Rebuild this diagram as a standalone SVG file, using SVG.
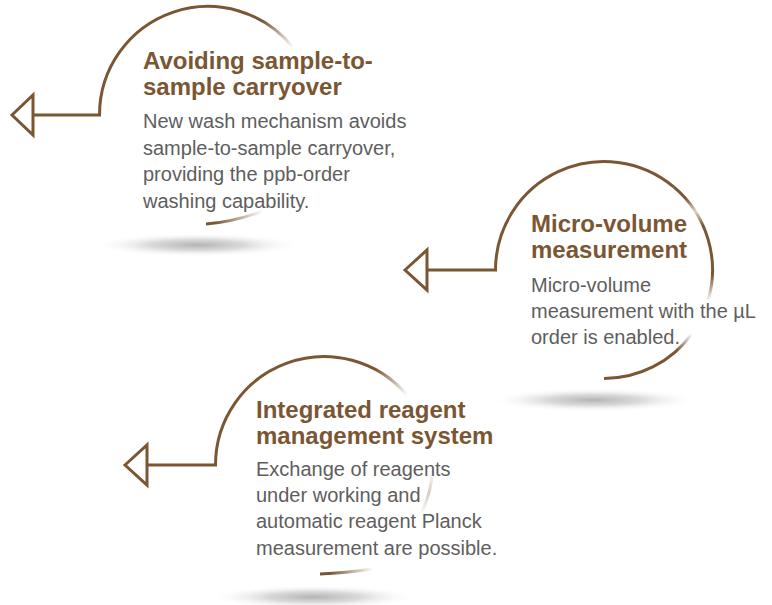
<svg xmlns="http://www.w3.org/2000/svg" width="772" height="605" viewBox="0 0 772 605">
<style>
.arc{fill:none;stroke-width:3;stroke-linecap:butt}
.solid{stroke:#7b5633}
.title{font-family:"Liberation Sans",Arial,sans-serif;font-weight:bold;font-size:24px;fill:#7b5633}
.body{font-family:"Liberation Sans",Arial,sans-serif;font-size:20px;fill:#5e5e5e}
.conn{fill:none;stroke:#7b5633;stroke-width:3;stroke-linejoin:miter}
.head{fill:#ffffff;stroke:#7b5633;stroke-width:3;stroke-linejoin:miter}
</style>
<defs>
<radialGradient id="shadow" cx="0.45" cy="0.5" r="0.5">
<stop offset="0" stop-color="#a0a0a0" stop-opacity="0.8"/>
<stop offset="0.45" stop-color="#b4b4b4" stop-opacity="0.5"/>
<stop offset="1" stop-color="#ffffff" stop-opacity="0"/>
</radialGradient>
<linearGradient id="g1a" gradientUnits="userSpaceOnUse" x1="262" y1="21" x2="293" y2="48">
<stop offset="0" stop-color="#7b5633"/><stop offset="1" stop-color="#7b5633" stop-opacity="0"/>
</linearGradient>
<linearGradient id="g1b" gradientUnits="userSpaceOnUse" x1="215" y1="223" x2="263" y2="211">
<stop offset="0" stop-color="#7b5633"/><stop offset="1" stop-color="#7b5633" stop-opacity="0"/>
</linearGradient>
<linearGradient id="g2a" gradientUnits="userSpaceOnUse" x1="673.7" y1="186.9" x2="707.8" y2="301.7">
<stop offset="0" stop-color="#7b5633"/>
<stop offset="0.12" stop-color="#7b5633"/>
<stop offset="0.25" stop-color="#e0d3c6"/>
<stop offset="0.38" stop-color="#7b5633"/>
<stop offset="0.8" stop-color="#7b5633"/>
<stop offset="1" stop-color="#7b5633" stop-opacity="0"/>
</linearGradient>
<linearGradient id="g2b" gradientUnits="userSpaceOnUse" x1="691.8" y1="333.8" x2="676.6" y2="350.6">
<stop offset="0" stop-color="#7b5633" stop-opacity="0"/><stop offset="1" stop-color="#7b5633"/>
</linearGradient>
<linearGradient id="g3a" gradientUnits="userSpaceOnUse" x1="374.9" y1="369.2" x2="407.1" y2="395.3">
<stop offset="0" stop-color="#7b5633"/><stop offset="1" stop-color="#7b5633" stop-opacity="0"/>
</linearGradient>
<linearGradient id="g3c" gradientUnits="userSpaceOnUse" x1="426" y1="470" x2="426" y2="515">
<stop offset="0" stop-color="#7b5633" stop-opacity="0"/>
<stop offset="0.5" stop-color="#7b5633" stop-opacity="0.3"/>
<stop offset="1" stop-color="#7b5633" stop-opacity="0"/>
</linearGradient>
<linearGradient id="g3b" gradientUnits="userSpaceOnUse" x1="330" y1="574" x2="373" y2="569">
<stop offset="0" stop-color="#7b5633"/><stop offset="1" stop-color="#7b5633" stop-opacity="0"/>
</linearGradient>
</defs>
<rect width="772" height="605" fill="#ffffff"/>

<g id="node-carryover">
<ellipse cx="208" cy="245" rx="105" ry="12" fill="url(#shadow)"/>
<path class="arc" stroke="url(#g1a)" d="M99.5,115 A108.5,108.5 0 0 1 293.5,48.2"/>
<path class="arc" stroke="url(#g1b)" d="M206,224 Q233,222 263,211"/>
<text class="title" x="143" y="69">Avoiding sample-to-</text>
<text class="title" x="143" y="95">sample carryover</text>
<text class="body" x="143" y="128">New wash mechanism avoids</text>
<text class="body" x="143" y="154.5">sample-to-sample carryover,</text>
<text class="body" x="143" y="181">providing the ppb-order</text>
<text class="body" x="143" y="207.5">washing capability.</text>
</g>

<g id="node-microvolume">
<ellipse cx="604" cy="400" rx="105" ry="12" fill="url(#shadow)"/>
<path class="arc solid" d="M495.5,270 A108.5,108.5 0 0 1 673.7,186.9"/>
<path class="arc" stroke="url(#g2a)" d="M673.7,186.9 A108.5,108.5 0 0 1 707.8,301.7"/>
<path class="arc" stroke="url(#g2b)" d="M691.8,333.8 A108.5,108.5 0 0 1 604,378.5"/>
<text class="title" x="531" y="232">Micro-volume</text>
<text class="title" x="531" y="258">measurement</text>
<text class="body" x="531" y="292">Micro-volume</text>
<text class="body" x="531" y="318">measurement with the µL</text>
<text class="body" x="531" y="344">order is enabled.</text>
</g>

<g id="node-reagent">
<ellipse cx="324" cy="597" rx="105" ry="12" fill="url(#shadow)"/>
<path class="arc" stroke="url(#g3a)" d="M215.5,465 A108.5,108.5 0 0 1 407.1,395.3"/>
<path class="arc" stroke="url(#g3c)" d="M432.4,470.7 A108.5,108.5 0 0 1 420.7,514.3"/>
<path class="arc" stroke="url(#g3b)" d="M320,574 Q345,573 373,569"/>
<text class="title" x="256" y="418">Integrated reagent</text>
<text class="title" x="256" y="444">management system</text>
<text class="body" x="256" y="476">Exchange of reagents</text>
<text class="body" x="256" y="502">under working and</text>
<text class="body" x="256" y="528">automatic reagent Planck</text>
<text class="body" x="256" y="555">measurement are possible.</text>
</g>

<g id="connectors">
<line class="conn" x1="33" y1="115" x2="101" y2="115"/>
<polygon class="head" points="12,115 33,95 33,135"/>
<line class="conn" x1="427" y1="270" x2="497" y2="270"/>
<polygon class="head" points="405,270 427,250 427,290"/>
<line class="conn" x1="147" y1="465" x2="217" y2="465"/>
<polygon class="head" points="125,465 147,445 147,485"/>
</g>
</svg>
